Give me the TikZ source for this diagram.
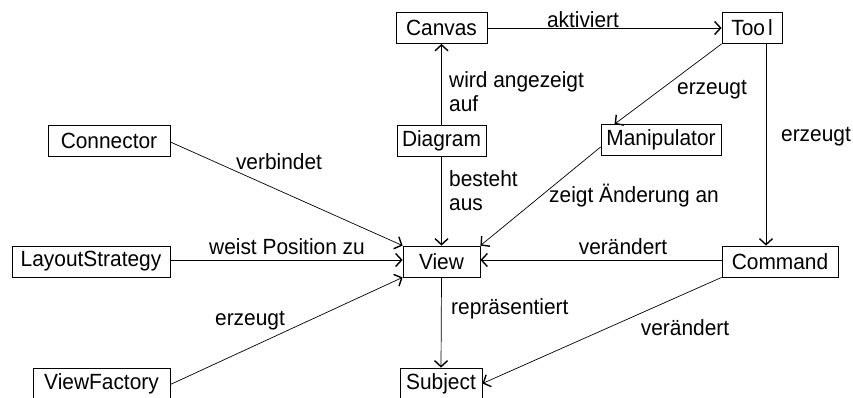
\documentclass[tikz,border=0pt]{standalone}
\usepackage{fontspec}
\setmainfont{Liberation Sans}[FakeStretch=0.95]
\usetikzlibrary{arrows.meta}
\begin{document}
\begin{tikzpicture}[x=1pt,y=-1pt,
  every node/.style={font=\fontsize{22}{24.5}\selectfont},
  cls/.style={draw,line width=0.8pt,inner sep=0pt,minimum height=31pt},
  lbl/.style={inner sep=0pt,align=left},
  rel/.style={line width=0.7pt,-{Straight Barb[length=6pt,width=13pt,line width=1.4pt]}},
  relplain/.style={line width=0.7pt}]
\useasboundingbox (0,0) rectangle (853,398);
% classes
\node[cls,minimum width=91pt]  (canvas)  at (441.5,28)  {Canvas};
\node[cls,minimum width=60pt]  (tool)    at (752,28)    {Too\hspace{3pt}l};
\node[cls,minimum width=89pt]  (diagram) at (441.5,141) {Diagram};
\node[cls,minimum width=120pt] (manip)   at (661,140)   {Manipulator};
\node[cls,minimum width=122pt] (conn)    at (109,141)   {Connector};
\node[cls,minimum width=158pt] (layout)  at (91,261.5)  {LayoutStrategy};
\node[cls,minimum width=77pt]  (view)    at (441.5,261.5) {View};
\node[cls,minimum width=116pt] (command) at (780,261.5) {Command};
\node[cls,minimum width=137pt] (factory) at (101.5,383.5) {ViewFactory};
\node[cls,minimum width=82pt]  (subject) at (441,383.5) {Subject};
% connectors
\draw[rel] (canvas.east) -- (tool.west);
\draw[rel] (diagram.north) -- (canvas.south);
\draw[rel] (diagram.south) -- (view.north);
\draw[rel] ([yshift=-7pt]manip.west) -- (view.north east);
\draw[rel] (tool.south west) -- ([xshift=14pt]manip.north west);
\draw[rel] ([xshift=14pt]tool.south) -- ([xshift=-14pt]command.north);
\draw[rel] ([yshift=-1pt]conn.east) -- (view.north west);
\draw[rel] ([yshift=1.5pt]layout.east) -- ([yshift=1.5pt]view.west);
\draw[rel] ([yshift=1.5pt]command.west) -- ([yshift=1.5pt]view.east);
\draw[rel] ([yshift=-1pt]factory.east) -- (view.south west);
\draw[rel] (view.south) -- (subject.north);
\draw[rel] (command.south west) -- (subject.east);
% labels
\node[lbl,anchor=base] (l1) at (583,27.5) {aktiviert};
\node[lbl,anchor=north west] (l2) at (449,71) {wird angezeigt\\auf};
\node[lbl,anchor=north west] (l3) at (449,170) {besteht\\aus};
\node[lbl,anchor=base] (l4) at (634,202) {zeigt Änderung an};
\node[lbl,anchor=base] (l5) at (712,95) {erzeugt};
\node[lbl,anchor=base] (l6) at (816,142) {erzeugt};
\node[lbl,anchor=base] (l7) at (279,170) {verbindet};
\node[lbl,anchor=base] (l8) at (287,254) {weist Position zu};
\node[lbl,anchor=base] (l9) at (623,254) {verändert};
\node[lbl,anchor=base] (l10) at (250,325) {erzeugt};
\node[lbl,anchor=base west] (l11) at (451,314) {repräsentiert};
\node[lbl,anchor=base] (l12) at (685,335) {verändert};
\end{tikzpicture}
\end{document}
